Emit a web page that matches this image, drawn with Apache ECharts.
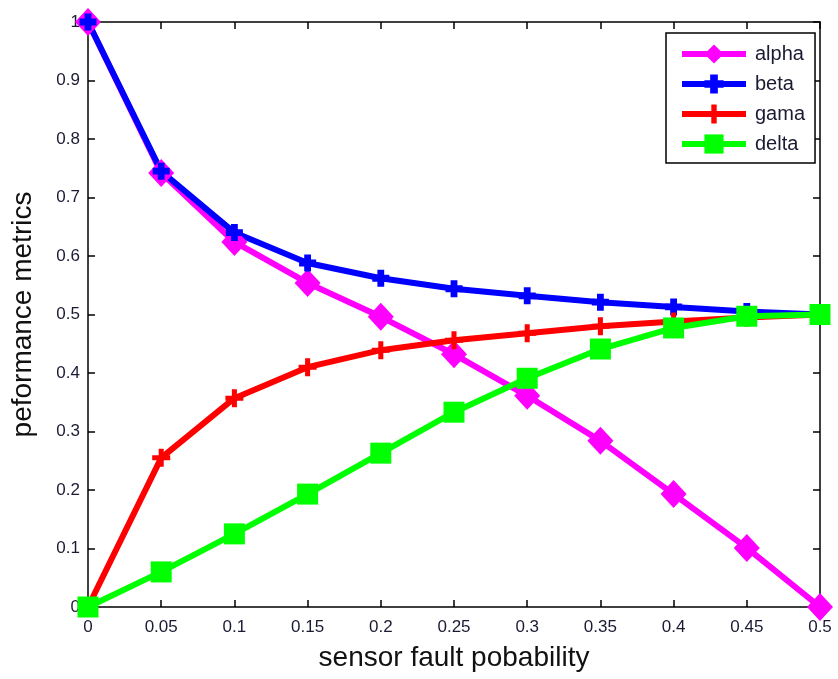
<!DOCTYPE html>
<html>
<head>
<meta charset="utf-8">
<script src="https://cdn.jsdelivr.net/npm/echarts@6/dist/echarts.min.js"></script>
<style>
  html, body { margin: 0; padding: 0; background: #fff; }
</style>
</head>
<body>
<div id="chart" style="width:838px;height:679px;"></div>
<script>
var xs = [0, 0.05, 0.1, 0.15, 0.2, 0.25, 0.3, 0.35, 0.4, 0.45, 0.5];
var alpha = [1, 0.742, 0.624, 0.554, 0.496, 0.432, 0.361, 0.284, 0.193, 0.101, 0];
var beta = [1, 0.745, 0.64, 0.588, 0.562, 0.544, 0.532, 0.521, 0.513, 0.505, 0.5];
var gama = [0, 0.255, 0.357, 0.41, 0.439, 0.456, 0.468, 0.48, 0.488, 0.495, 0.5];
var delta = [0, 0.06, 0.125, 0.193, 0.263, 0.333, 0.391, 0.441, 0.477, 0.497, 0.5];

var plusThick = 'path://M3,0h4v3h3v4h-3v3h-4v-3h-3v-4h3z';
var plusThin = 'path://M3.6,0h2.8v3.6h3.6v2.8h-3.6v3.6h-2.8v-3.6h-3.6v-2.8h3.6z';

function pairs(ys) {
    return xs.map(function (x, i) { return [x, ys[i]]; });
}

function line(name, ys, color, symbol, size) {
    return {
        name: name,
        type: 'line',
        data: pairs(ys),
        symbol: symbol,
        symbolSize: size,
        showAllSymbol: true,
        lineStyle: { color: color, width: 6 },
        itemStyle: { color: color, borderWidth: 0 },
        emphasis: { disabled: true },
        animation: false
    };
}

var axisLine = { show: true, onZero: false, lineStyle: { color: '#000', width: 1.5 } };
var labelFont = { color: '#1a1a33', fontSize: 17, fontFamily: 'Liberation Sans' };

var chart = echarts.init(document.getElementById('chart'));
chart.setOption({
    backgroundColor: '#fff',
    grid: { left: 88, right: 18, top: 22, bottom: 72 },
    legend: {
        left: 666,
        top: 33,
        width: 147,
        orient: 'vertical',
        itemWidth: 64,
        itemHeight: 24,
        itemGap: 10,
        padding: [11, 10, 9, 13],
        borderColor: '#000',
        borderWidth: 1.5,
        backgroundColor: '#fff',
        lineStyle: { width: 6 },
        textStyle: { color: '#1a1a33', fontSize: 20, fontFamily: 'Liberation Sans', padding: [0, 0, 0, 4] },
        data: ['alpha', 'beta', 'gama', 'delta']
    },
    xAxis: [{
        type: 'value',
        min: 0, max: 0.5, interval: 0.05,
        name: 'sensor fault pobability',
        nameLocation: 'middle',
        nameGap: 37,
        nameTextStyle: { color: '#111', fontSize: 28, fontFamily: 'Liberation Sans' },
        axisLine: axisLine,
        axisTick: { inside: true, length: 7, lineStyle: { color: '#000', width: 1.5 } },
        axisLabel: Object.assign({ margin: 12 }, labelFont),
        splitLine: { show: false }
    }, {
        type: 'value',
        position: 'top',
        min: 0, max: 0.5, interval: 0.05,
        axisLine: axisLine,
        axisTick: { inside: true, length: 7, lineStyle: { color: '#000', width: 1.5 } },
        axisLabel: { show: false },
        splitLine: { show: false }
    }],
    yAxis: [{
        type: 'value',
        min: 0, max: 1, interval: 0.1,
        name: 'peformance metrics',
        nameLocation: 'middle',
        nameGap: 51,
        nameTextStyle: { color: '#111', fontSize: 28, fontFamily: 'Liberation Sans' },
        axisLine: axisLine,
        axisTick: { inside: true, length: 7, lineStyle: { color: '#000', width: 1.5 } },
        axisLabel: Object.assign({ margin: 8 }, labelFont),
        splitLine: { show: false }
    }, {
        type: 'value',
        position: 'right',
        min: 0, max: 1, interval: 0.1,
        axisLine: axisLine,
        axisTick: { inside: true, length: 7, lineStyle: { color: '#000', width: 1.5 } },
        axisLabel: { show: false },
        splitLine: { show: false }
    }],
    series: [
        line('alpha', alpha, '#ff00ff', 'diamond', [26, 28]),
        line('beta', beta, '#0000ff', plusThick, 17),
        line('gama', gama, '#ff0000', plusThin, 18),
        line('delta', delta, '#00ff00', 'rect', 21)
    ]
});
</script>
</body>
</html>
